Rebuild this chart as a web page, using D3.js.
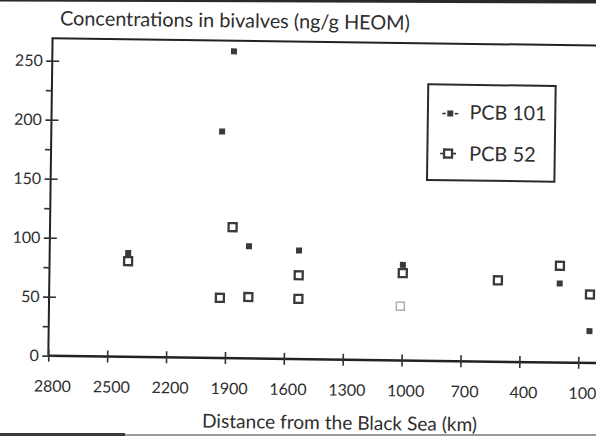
<!DOCTYPE html>
<html>
<head>
<meta charset="utf-8">
<script src="https://cdn.jsdelivr.net/npm/d3@7"></script>
<style>
  body { margin: 0; background: #fff; }
  svg { display: block; }
  text { font-family: Lato, "Open Sans", sans-serif; fill: #2e2e2e; }
</style>
</head>
<body>
<div id="chart"></div>
<script>
// values
var distTicks = [2800, 2500, 2200, 1900, 1600, 1300, 1000, 700, 400, 100];
var concTicks = [0, 50, 100, 150, 200, 250];
var concMinorTicks = [25, 75, 125, 175, 225];

var pcb101Dist = [2400, 1875, 1930, 1785, 1530, 1000, 200, 45];
var pcb101Conc = [88, 260, 192, 95, 92, 81, 67, 27];

var pcb52Dist = [2400, 1870, 1930, 1785, 1530, 1530, 1000, 515, 200, 45];
var pcb52Conc = [81, 111, 51, 52, 71, 51, 74, 69, 82, 58];

// faintly printed point near 1000 km
var pcb52FaintDist = [1010];
var pcb52FaintConc = [46];

var seriesNames = ['PCB 101', 'PCB 52'];
var titleText = 'Concentrations in bivalves (ng/g HEOM)';
var xTitleText = 'Distance from the Black Sea (km)';

var W = 596, H = 436;
var ink = '#333';

var svg = d3.select('#chart').append('svg')
  .attr('width', W)
  .attr('height', H);

// scanned page edges
svg.append('polygon').attr('points', '0,0 596,0 596,3.5 0,1.5').attr('fill', '#2a2a2a');
svg.append('rect').attr('x', 0).attr('y', 433).attr('width', 125).attr('height', 3).attr('fill', '#3a3a3a');
svg.append('rect').attr('x', 125).attr('y', 434).attr('width', 471).attr('height', 2).attr('fill', '#9a9a9a');

// the scan is tilted a little clockwise
var g = svg.append('g').attr('transform', 'rotate(0.77,48.3,355.7)');

var x = d3.scaleLinear().domain([2800, 100]).range([48.3, 578.3]);
var y = d3.scaleLinear().domain([0, 250]).range([355.7, 60.7]);
var frameTop = 38.2;

function fit(sel, w) {
  var fs = parseFloat(sel.attr('font-size'));
  var len = sel.node().getComputedTextLength();
  sel.attr('font-size', fs * w / len);
}

// title
g.append('text')
  .attr('x', 55.5).attr('y', 25)
  .attr('font-size', 20)
  .text(titleText)
  .call(fit, 350);

// top frame line and y axis line
g.append('line')
  .attr('x1', x(2800) - 1).attr('x2', 660)
  .attr('y1', frameTop).attr('y2', frameTop)
  .attr('stroke', '#222').attr('stroke-width', 2);
g.append('line')
  .attr('x1', x(2800)).attr('x2', x(2800))
  .attr('y1', frameTop).attr('y2', y(0))
  .attr('stroke', '#222').attr('stroke-width', 2);
// x axis line runs off the right edge
g.append('line')
  .attr('x1', x(2800)).attr('x2', x(-250))
  .attr('y1', y(0)).attr('y2', y(0))
  .attr('stroke', '#222').attr('stroke-width', 2.5);

// x axis ticks
var xAxis = g.append('g')
  .attr('transform', 'translate(0,' + y(0) + ')')
  .call(d3.axisBottom(x).tickValues(distTicks).tickSize(6).tickSizeOuter(0).tickFormat(d3.format('d')));
xAxis.select('.domain').remove();
xAxis.selectAll('.tick line').attr('y1', -6).attr('stroke', '#333').attr('stroke-width', 1.6);
xAxis.selectAll('.tick text')
  .attr('y', 36).attr('dy', null).attr('dx', 4)
  .attr('font-size', 16).attr('font-family', 'Lato, sans-serif').attr('fill', '#2e2e2e');

// y axis ticks
var yAxis = g.append('g')
  .attr('transform', 'translate(' + x(2800) + ',0)')
  .call(d3.axisLeft(y).tickValues(concTicks).tickSize(6).tickSizeOuter(0));
yAxis.select('.domain').remove();
yAxis.selectAll('.tick line').attr('x1', 7).attr('stroke', '#333').attr('stroke-width', 1.6);
yAxis.selectAll('.tick text')
  .attr('x', -9.5)
  .attr('font-size', 16).attr('font-family', 'Lato, sans-serif').attr('fill', '#2e2e2e');

var yMinor = g.append('g')
  .attr('transform', 'translate(' + x(2800) + ',0)')
  .call(d3.axisLeft(y).tickValues(concMinorTicks).tickSize(6).tickSizeOuter(0).tickFormat(''));
yMinor.select('.domain').remove();
yMinor.selectAll('.tick line').attr('stroke', '#333').attr('stroke-width', 1.6);

// x axis title
g.append('text')
  .attr('x', 203).attr('y', 425.5)
  .attr('font-size', 19)
  .text(xTitleText)
  .call(fit, 275);

// points
var pcb101 = pcb101Dist.map(function(d, i) { return {dist: d, conc: pcb101Conc[i]}; });
var pcb52 = pcb52Dist.map(function(d, i) { return {dist: d, conc: pcb52Conc[i]}; });
var pcb52Faint = pcb52FaintDist.map(function(d, i) { return {dist: d, conc: pcb52FaintConc[i]}; });

g.append('g').selectAll('rect')
  .data(pcb101)
  .enter()
  .append('rect')
  .attr('x', function(d) { return x(d.dist) - 3; })
  .attr('y', function(d) { return y(d.conc) - 3; })
  .attr('width', 6).attr('height', 6)
  .attr('fill', '#3a3a3a');

g.append('g').selectAll('rect')
  .data(pcb52)
  .enter()
  .append('rect')
  .attr('x', function(d) { return x(d.dist) - 4; })
  .attr('y', function(d) { return y(d.conc) - 4; })
  .attr('width', 8).attr('height', 8)
  .attr('fill', '#fff')
  .attr('stroke', '#3a3a3a').attr('stroke-width', 2.3);

g.append('g').selectAll('rect')
  .data(pcb52Faint)
  .enter()
  .append('rect')
  .attr('x', function(d) { return x(d.dist) - 4; })
  .attr('y', function(d) { return y(d.conc) - 4; })
  .attr('width', 8).attr('height', 8)
  .attr('fill', 'none')
  .attr('stroke', '#aaa').attr('stroke-width', 1.4);

// legend
var leg = g.append('g').attr('transform', 'translate(424.6,79.2)');
leg.append('rect')
  .attr('width', 127.4).attr('height', 95.7)
  .attr('fill', '#fff')
  .attr('stroke', '#2a2a2a').attr('stroke-width', 2);

var m1 = leg.append('g').attr('transform', 'translate(22.4,29)');
m1.append('line').attr('x1', -8).attr('x2', -4.5).attr('stroke', ink).attr('stroke-width', 1.6);
m1.append('line').attr('x1', 4.5).attr('x2', 8).attr('stroke', ink).attr('stroke-width', 1.6);
m1.append('rect').attr('x', -3).attr('y', -3).attr('width', 6).attr('height', 6).attr('fill', '#3a3a3a');
leg.append('text').attr('x', 41.7).attr('y', 34.5).attr('font-size', 20)
  .text(seriesNames[0]).call(fit, 77);

var m2 = leg.append('g').attr('transform', 'translate(20.7,69)');
m2.append('line').attr('x1', -8).attr('x2', 8).attr('stroke', ink).attr('stroke-width', 1.6);
m2.append('rect').attr('x', -4).attr('y', -4).attr('width', 8).attr('height', 8)
  .attr('fill', '#fff').attr('stroke', '#3a3a3a').attr('stroke-width', 2.3);
leg.append('text').attr('x', 41.7).attr('y', 76).attr('font-size', 20)
  .text(seriesNames[1]).call(fit, 66.7);
</script>
</body>
</html>
